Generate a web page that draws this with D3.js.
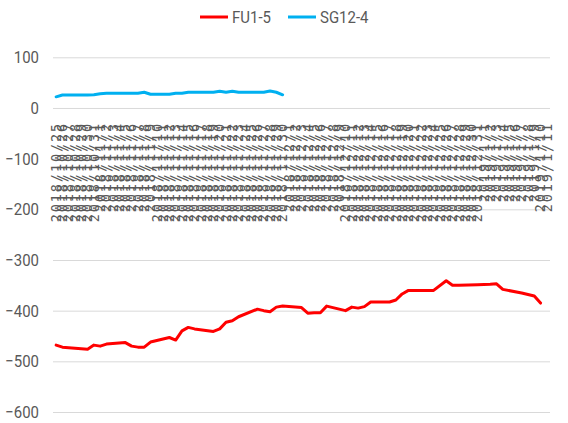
<!DOCTYPE html>
<html><head><meta charset="utf-8">
<script src="https://cdn.jsdelivr.net/npm/d3@7/dist/d3.min.js"></script>
<style>body{margin:0;background:#fff}svg{display:block}</style>
</head><body>
<svg id="c" width="568" height="423"></svg>
<script>
const dates = ["2018/10/25","2018/10/26","2018/10/27","2018/10/28","2018/10/29","2018/10/30","2018/10/31",
"2018/11/1","2018/11/2","2018/11/3","2018/11/4","2018/11/5","2018/11/6","2018/11/7","2018/11/8","2018/11/9","2018/11/10",
"2018/11/11","2018/11/12","2018/11/13","2018/11/14","2018/11/15","2018/11/16","2018/11/17","2018/11/18","2018/11/19","2018/11/20",
"2018/11/21","2018/11/22","2018/11/23","2018/11/24","2018/11/25","2018/11/26","2018/11/27","2018/11/28","2018/11/29","2018/11/30",
"2018/12/1","2018/12/2","2018/12/3","2018/12/4","2018/12/5","2018/12/6","2018/12/7","2018/12/8","2018/12/9","2018/12/10",
"2018/12/11","2018/12/12","2018/12/13","2018/12/14","2018/12/15","2018/12/16","2018/12/17","2018/12/18","2018/12/19","2018/12/20",
"2018/12/21","2018/12/22","2018/12/23","2018/12/24","2018/12/25","2018/12/26","2018/12/27","2018/12/28","2018/12/29","2018/12/30","2018/12/31",
"2019/1/1","2019/1/2","2019/1/3","2019/1/4","2019/1/5","2019/1/6","2019/1/7","2019/1/8","2019/1/9","2019/1/10","2019/1/11"];

const fu15 = [-468,-472,null,null,-475,-476,-468,-470,-466,null,null,-463,-470,-472,-472,-462,null,null,-453,-458,-440,-433,-436,null,null,
-441,-436,-423,-420,-412,null,null,-397,-400,-402,-393,-391,null,null,-394,-405,-404,-404,-391,null,null,-400,-393,-395,-392,-383,null,null,
-383,-379,-367,-360,-360,null,null,-360,null,-341,-350,-350,null,null,-349,null,-348,-347,-358,null,null,-365,-368,-371,-385,null];

const sg124 = [22,25.5,null,null,25.5,25.5,26,28,29,null,null,29,29,29,31,27,null,null,27,29,29,31,31,null,null,
31,33,31,33,31,null,null,31,31,33.5,31,26];

const yTicks = [100,0,-100,-200,-300,-400,-500,-600];
const seriesNames = ["FU1-5","SG12-4"];
const seriesColors = ["#ff0000","#00b0f0"];

const svg = d3.select("#c");
const pL = 53, pR = 550, pT = 57.3, pB = 412;
const x = d3.scaleBand().domain(dates).range([pL, pR]).paddingInner(0).paddingOuter(0);
const y = d3.scaleLinear().domain([-600, 100]).range([pB, pT]);
const cx = d => x(d) + x.bandwidth() / 2;
const labelFont = "Roboto,'Noto Sans',sans-serif";
const narrow = sel => sel.each(function () {
  const w = this.getComputedTextLength();
  d3.select(this).attr("textLength", w * 0.88).attr("lengthAdjust", "spacingAndGlyphs");
});

// gridlines
const yAxis = d3.axisLeft(y).tickValues(yTicks).tickSize(-(pR - pL)).tickFormat(d3.format("d")).tickPadding(14);
const gy = svg.append("g").attr("transform", `translate(${pL},0)`).call(yAxis);
gy.select(".domain").remove();
gy.selectAll(".tick line").attr("stroke", "#d9d9d9").attr("stroke-width", 1);
gy.selectAll(".tick text").attr("fill", "#595959").style("font-family", labelFont).style("font-size", "17px").call(narrow);

// x axis labels (rotated, stacked)
const xAxis = d3.axisBottom(x).tickSize(0).tickPadding(0);
const gx = svg.append("g").attr("transform", `translate(0,${y(0)})`).call(xAxis);
gx.select(".domain").remove();
gx.selectAll(".tick text")
  .attr("fill", "#595959")
  .style("font-family", "'DejaVu Sans Mono',monospace")
  .style("font-size", "13.5px")
  .style("letter-spacing", "1.9px")
  .attr("text-anchor", "end")
  .attr("transform", "rotate(-90)")
  .attr("x", -14)
  .attr("y", 0)
  .attr("dy", "0.35em");

// lines
const line = d3.line().x(d => cx(d.date)).y(d => y(d.v));
const mk = arr => arr.map((v, i) => ({date: dates[i], v})).filter(d => d.v !== null);
[fu15, sg124].forEach((arr, k) => {
  svg.append("path").datum(mk(arr)).attr("d", line)
    .attr("fill", "none").attr("stroke", seriesColors[k]).attr("stroke-width", 3)
    .attr("stroke-linejoin", "round").attr("stroke-linecap", "round");
});

// legend
const legX = [200, 288];
seriesNames.forEach((n, k) => {
  const g = svg.append("g").attr("transform", `translate(${legX[k]},17)`);
  g.append("line").attr("x1", 0).attr("x2", 28).attr("stroke", seriesColors[k]).attr("stroke-width", 3);
  g.append("text").attr("x", 32).attr("dy", "0.35em").text(n)
    .attr("fill", "#595959").style("font-family", labelFont).style("font-size", "17px").call(narrow);
});
</script>
</body></html>
